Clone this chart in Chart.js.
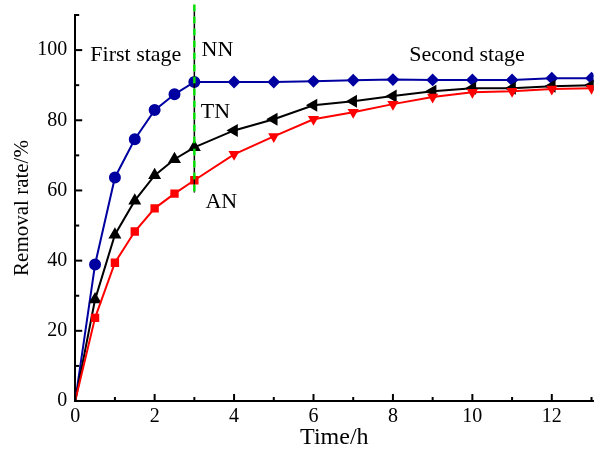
<!DOCTYPE html>
<html>
<head>
<meta charset="utf-8">
<script src="https://cdn.jsdelivr.net/npm/chart.js@4"></script>
<style>
  body { margin: 0; background: #fff; }
  #wrap { width: 601px; height: 450px; }
</style>
</head>
<body>
<div id="wrap"><canvas id="removalChart" width="601" height="450"></canvas></div>
<script>
// time points (h)
var times = [0, 0.5, 1, 1.5, 2, 2.5, 3, 4, 5, 6, 7, 8, 9, 10, 11, 12, 13];

// removal rate (%)
var nnValues = [0, 38.9, 63.7, 74.6, 82.9, 87.4, 90.9, 90.9, 90.9, 91.1, 91.4, 91.6, 91.5, 91.5, 91.5, 92.0, 92.0];
var tnValues = [0, 28.9, 47.4, 57.1, 64.3, 68.9, 72.3, 77.1, 80.3, 84.3, 85.4, 86.9, 88.3, 89.1, 89.1, 89.7, 90.0];
var anValues = [0, 23.7, 39.4, 48.3, 54.9, 59.1, 62.9, 70.3, 75.4, 80.3, 82.3, 84.6, 86.6, 88.0, 88.3, 88.9, 89.1];

var xTicks = [0, 2, 4, 6, 8, 10, 12];
var yTicks = [0, 20, 40, 60, 80, 100];
var stageTime = 3;

var serif = 'Liberation Serif';

function toPoints(vals) {
    return vals.map(function (v, i) { return { x: times[i], y: v }; });
}

// first stage markers vs second stage markers
function styleBy(first, second) {
    return times.map(function (t) { return t <= stageTime ? first : second; });
}
function radiusList(r) {
    return times.map(function (t) { return t === 0 ? 0 : r; });
}

// labels are not at the ends of the axes, so drop the extra label padding
function noEdgePadding(scale) {
    scale.paddingLeft = 0;
    scale.paddingRight = 0;
    scale.paddingTop = 0;
    scale.paddingBottom = 0;
}

// annotations, dashed stage line and inward ticks
const extras = {
    id: 'extras',
    afterDatasetsDraw(chart) {
        const ctx = chart.ctx;
        const xs = chart.scales.x;
        const ys = chart.scales.y;
        const area = chart.chartArea;

        ctx.save();
        // stage line
        const lx = xs.getPixelForValue(stageTime);
        const top = ys.getPixelForValue(113);
        const bot = ys.getPixelForValue(59.4);
        ctx.lineWidth = 2.5;
        ctx.setLineDash([7, 5]);
        ctx.strokeStyle = '#00dd00';
        ctx.beginPath(); ctx.moveTo(lx, top); ctx.lineTo(lx, bot); ctx.stroke();
        ctx.lineWidth = 1.5;
        ctx.setLineDash([5, 7]);
        ctx.lineDashOffset = -7;
        ctx.strokeStyle = '#000';
        ctx.beginPath(); ctx.moveTo(lx, top); ctx.lineTo(lx, bot); ctx.stroke();
        ctx.setLineDash([]);

        // ticks pointing inward
        ctx.strokeStyle = '#000';
        ctx.lineWidth = 2;
        for (let v = 0; v <= 13; v++) {
            const px = xs.getPixelForValue(v);
            const len = v % 2 === 0 ? 7 : 4;
            ctx.beginPath(); ctx.moveTo(px, area.bottom); ctx.lineTo(px, area.bottom - len); ctx.stroke();
        }
        for (let v = 0; v <= 110; v += 10) {
            const py = ys.getPixelForValue(v);
            const len = v % 20 === 0 ? 7 : 4;
            ctx.beginPath(); ctx.moveTo(area.left, py); ctx.lineTo(area.left + len, py); ctx.stroke();
        }

        // labels
        ctx.fillStyle = '#000';
        ctx.font = '22px "' + serif + '"';
        ctx.textBaseline = 'middle';
        ctx.textAlign = 'left';
        ctx.fillText('First stage', xs.getPixelForValue(0.38), ys.getPixelForValue(98.6));
        ctx.fillText('NN', xs.getPixelForValue(3.18), ys.getPixelForValue(100));
        ctx.fillText('TN', xs.getPixelForValue(3.16), ys.getPixelForValue(82.3));
        ctx.fillText('AN', xs.getPixelForValue(3.28), ys.getPixelForValue(56.6));
        ctx.fillText('Second stage', xs.getPixelForValue(8.41), ys.getPixelForValue(98.6));
        ctx.restore();
    }
};

const removalCtx = document.getElementById('removalChart').getContext('2d');
const removalChart = new Chart(removalCtx, {
    type: 'line',
    data: {
        datasets: [{
            label: 'AN',
            data: toPoints(anValues),
            borderColor: '#ff0000',
            backgroundColor: '#ff0000',
            borderWidth: 2,
            pointStyle: styleBy('rect', 'triangle'),
            pointRotation: styleBy(0, 180),
            pointRadius: radiusList(4.5),
            tension: 0
        }, {
            label: 'TN',
            data: toPoints(tnValues),
            borderColor: '#000000',
            backgroundColor: '#000000',
            borderWidth: 2,
            pointStyle: 'triangle',
            pointRotation: styleBy(0, -90),
            pointRadius: radiusList(5.5),
            tension: 0
        }, {
            label: 'NN',
            data: toPoints(nnValues),
            borderColor: '#0000a0',
            backgroundColor: '#0000a0',
            borderWidth: 2,
            pointStyle: styleBy('circle', 'rectRot'),
            pointRadius: radiusList(5),
            tension: 0
        }]
    },
    options: {
        responsive: false,
        animation: false,
        layout: { padding: { top: 15, right: 0, left: 6, bottom: 0 } },
        plugins: {
            legend: { display: false },
            tooltip: { enabled: false }
        },
        scales: {
            x: {
                type: 'linear',
                min: 0,
                max: 13.05,
                afterBuildTicks: function (axis) {
                    axis.ticks = xTicks.map(function (v) { return { value: v }; });
                },
                afterFit: noEdgePadding,
                grid: { display: false, drawTicks: false, tickLength: 0 },
                border: { color: '#000', width: 2 },
                ticks: {
                    color: '#000',
                    padding: 6,
                    maxRotation: 0,
                    font: { family: serif, size: 20, lineHeight: 1 }
                },
                title: {
                    display: true,
                    text: 'Time/h',
                    color: '#000',
                    padding: { top: -7, bottom: 0 },
                    font: { family: serif, size: 24, lineHeight: 1 }
                }
            },
            y: {
                min: 0,
                max: 110,
                afterBuildTicks: function (axis) {
                    axis.ticks = yTicks.map(function (v) { return { value: v }; });
                },
                afterFit: noEdgePadding,
                grid: { display: false, drawTicks: false, tickLength: 0 },
                border: { color: '#000', width: 2 },
                ticks: {
                    color: '#000',
                    padding: 8,
                    font: { family: serif, size: 20 }
                },
                title: {
                    display: true,
                    text: 'Removal rate/%',
                    color: '#000',
                    padding: { top: 4, bottom: -6 },
                    font: { family: serif, size: 21, lineHeight: 1.2 }
                }
            }
        }
    },
    plugins: [extras]
});
</script>
</body>
</html>
